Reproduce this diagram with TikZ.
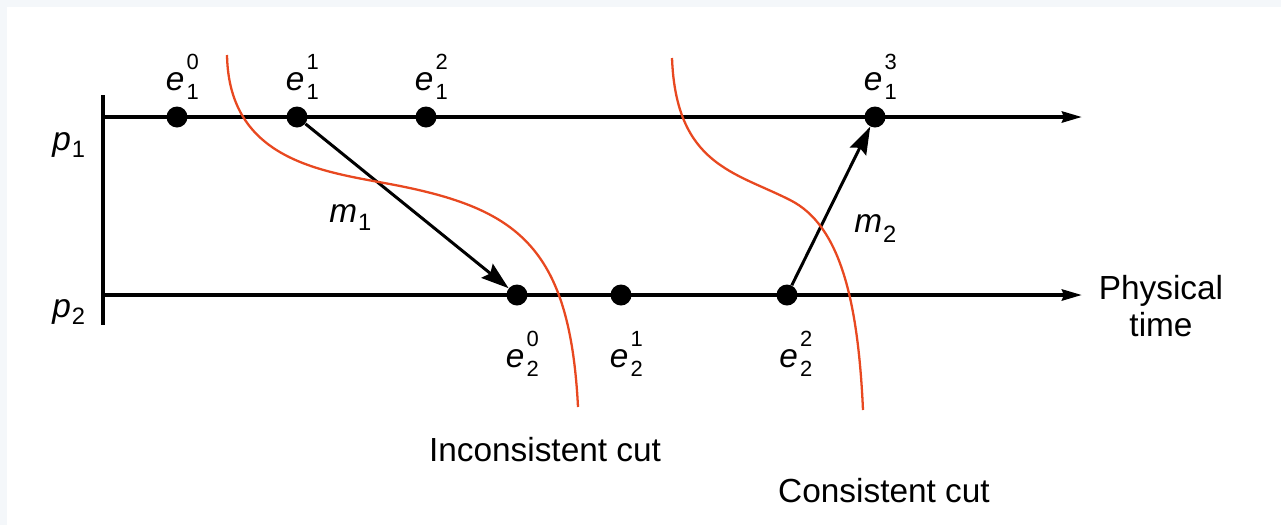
\documentclass[tikz,border=0pt]{standalone}
\usepackage{fontspec}
\setmainfont{Liberation Sans}
\usetikzlibrary{positioning, arrows.meta}
\definecolor{cutred}{RGB}{232,72,32}
\definecolor{pagegray}{RGB}{244,247,250}
% event label: letter with stacked sub- and superscript
\newcommand{\evlab}[3]{\textit{#1}\kern1.2pt\rlap{\raisebox{12pt}{\fontsize{12.5}{14}\selectfont #3}}\raisebox{-5pt}{\fontsize{12.5}{14}\selectfont #2}}
\newcommand{\sublab}[3][-5pt]{\textit{#2}\kern0.6pt\raisebox{#1}{\fontsize{13.5}{15}\selectfont #3}}

\begin{document}
\begin{tikzpicture}[x=0.02cm, y=-0.02cm,
    dot/.style={circle, fill=black, inner sep=0pt, minimum size=0.42cm},
    lab/.style={inner sep=0pt, font=\fontsize{19}{21.5}\selectfont},
    axis/.style={line width=2.2pt, -{Stealth[length=0.4cm, width=0.22cm, inset=0.04cm]}},
    msg/.style={line width=1.7pt, -{Stealth[length=0.55cm, width=0.36cm, inset=0.08cm]}},
    cut/.style={cutred, line width=1.3pt}]
    \useasboundingbox (0,0) rectangle (1281,525);
    \fill[pagegray] (0,0) rectangle (1281,525);
    \fill[white] (7,7) rectangle (1281,525);

    % process lines
    \coordinate (bartop) at (103,95);
    \coordinate (barbot) at (103,325);
    \coordinate (p1start) at (103,117);
    \coordinate (p1end) at (1082,117);
    \coordinate (p2start) at (103,295);
    \coordinate (p2end) at (1082,295);
    \draw[line width=2.2pt] (bartop) -- (barbot);
    \draw[axis] (p1start) -- (p1end);
    \draw[axis] (p2start) -- (p2end);
    \node[lab, anchor=base west] (p1) at (52,150) {\sublab[-4pt]{p}{1}};
    \node[lab, anchor=base west] (p2) at (52,317) {\sublab[-4pt]{p}{2}};

    % events
    \node[dot] (e10) at (177,117) {};
    \node[dot] (e11) at (297,117) {};
    \node[dot] (e12) at (426,117) {};
    \node[dot] (e13) at (875,117) {};
    \node[dot] (e20) at (517,295) {};
    \node[dot] (e21) at (621,295) {};
    \node[dot] (e22) at (787,295) {};

    \node[lab, above=0.13cm of e10, xshift=3pt] (l10) {\evlab{e}{1}{0}};
    \node[lab, above=0.13cm of e11, xshift=3pt] (l11) {\evlab{e}{1}{1}};
    \node[lab, above=0.13cm of e12, xshift=3pt] (l12) {\evlab{e}{1}{2}};
    \node[lab, above=0.13cm of e13, xshift=3pt] (l13) {\evlab{e}{1}{3}};
    \node[lab, below=0.5cm of e20, xshift=3pt] (l20) {\evlab{e}{2}{0}};
    \node[lab, below=0.5cm of e21, xshift=3pt] (l21) {\evlab{e}{2}{1}};
    \node[lab, below=0.5cm of e22, xshift=5pt] (l22) {\evlab{e}{2}{2}};

    % messages
    \draw[msg] (e11) -- (e20);
    \draw[msg] (e22) -- (e13);
    \node[lab, anchor=base west] (m1) at (329,222) {\sublab{m}{1}};
    \node[lab, anchor=base west] (m2) at (854,232) {\sublab[-6pt]{m}{2}};

    % cuts
    \draw[cut] (227,55) .. controls (229,165) and (330,172) .. (400,186)
        .. controls (520,210) and (570,250) .. (578,407);
    \draw[cut] (672,58) .. controls (676,165) and (735,172) .. (790,200)
        .. controls (840,225) and (858,300) .. (863,410);

    \node[lab, align=center] (ptime) at (1161,306) {Physical\\time};
    \node[lab, anchor=base] (incut) at (545,461) {Inconsistent cut};
    \node[lab, anchor=base] (concut) at (884,502) {Consistent cut};
\end{tikzpicture}
\end{document}
